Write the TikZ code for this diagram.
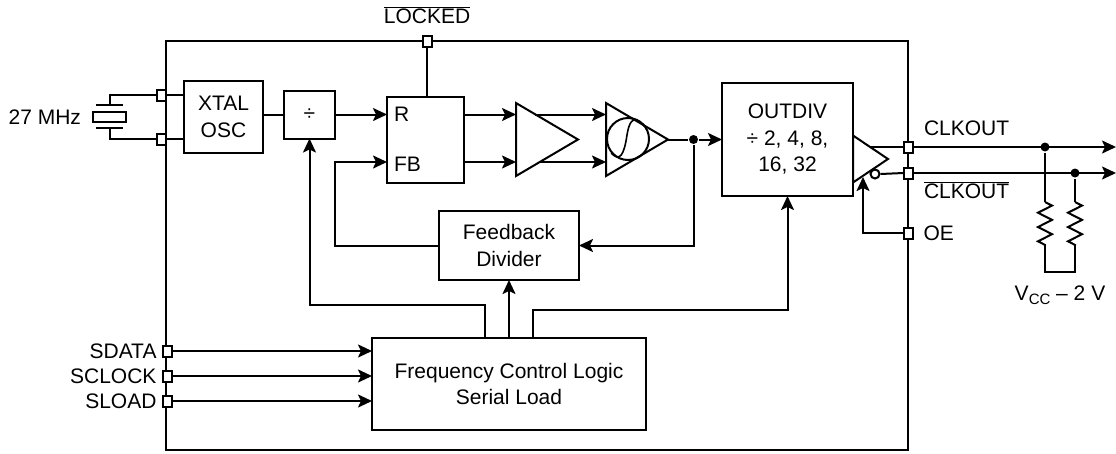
\documentclass[tikz,border=0pt]{standalone}
\usepackage{fontspec}
\setmainfont{Liberation Sans}
\usetikzlibrary{positioning}
\usetikzlibrary{arrows.meta}
\usetikzlibrary{shapes.geometric}
\usetikzlibrary{decorations.pathmorphing}
\tikzset{	x=1pt, y=-1pt,
	font=\fontsize{21}{26.5}\selectfont,
	>={Stealth[length=14pt,width=13pt,inset=3pt]},
	blockbox/.style={
		draw,
		rectangle,
		align=center,
		inner sep=0pt,
		outer sep=0pt},
	ampbox/.style={
		draw,
		isosceles triangle,
		isosceles triangle stretches,
		shape border rotate=0,
		inner sep=0pt,
		outer sep=0pt},
	pinbox/.style={
		draw,
		fill=white,
		rectangle,
		inner sep=0pt,
		outer sep=0pt,
		minimum width=9pt,
		minimum height=11pt},
	junction/.style={
		circle,
		fill=black,
		inner sep=0pt,
		minimum size=9pt},
	textlabel/.style={
		inner sep=0pt,
		outer sep=0pt},
	resistor/.style={
		decorate,
		decoration={zigzag, amplitude=7pt, segment length=14.3pt}},
	every edge/.style={
		draw,
		->}
}

\begin{document}
\begin{tikzpicture}[line width=2pt]
			\useasboundingbox (0,0) rectangle (1116,453);
			% package outline and pins
			\node[blockbox, minimum width=742pt, minimum height=409pt] (chip) at (537,245.5) {};
			\node[pinbox] (xtalpina) at (161,95) {};
			\node[pinbox] (xtalpinb) at (161,139) {};
			\node[pinbox] (lockpin) at (427,41) {};
			\node[pinbox] (clkpin) at (908,147) {};
			\node[pinbox] (nclkpin) at (908,173) {};
			\node[pinbox] (oepin) at (908,233) {};
			\node[pinbox] (sdatapin) at (167,351) {};
			\node[pinbox] (sclockpin) at (167,376) {};
			\node[pinbox] (sloadpin) at (167,401) {};
			% blocks
			\node[blockbox, minimum width=79pt, minimum height=72pt] (xtal) at (223.5,117) {XTAL\\OSC};
			\node[blockbox, minimum width=51pt, minimum height=48pt, right=21pt of xtal, yshift=2.5pt] (ddiv) {÷};
			\node[blockbox, minimum width=77pt, minimum height=86pt, right=52pt of ddiv, yshift=-25pt] (pll) {};
			\node[ampbox, minimum width=73pt, minimum height=62pt, right=52pt of pll] (amp) {};
			\node[ampbox, minimum width=73pt, minimum height=62pt, right=28pt of amp] (vco) {};
			\node[circle, draw, inner sep=0pt, minimum size=42pt] (sine) at (628,139) {};
			\node[junction, right=20pt of vco] (vcodot) {};
			\node[blockbox, minimum width=131pt, minimum height=113pt] (outdiv) at (787.5,139.5) {OUTDIV\\÷ 2, 4, 8,\\16, 32};
			\node[ampbox, minimum width=47pt, minimum height=35pt, anchor=apex] (driver) at (888,159) {};
			\node[circle, draw, fill=white, inner sep=0pt, minimum size=9pt] (bubble) at (875,174) {};
			\node[blockbox, minimum width=274pt, minimum height=92pt] (freq) at (509,384) {Frequency Control Logic\\Serial Load};
			\node[blockbox, minimum width=140pt, minimum height=69pt, above=58pt of freq] (fbdiv) {Feedback\\Divider};
			\node[junction] (clkdot) at (1045,147) {};
			\node[junction] (nclkdot) at (1075,173) {};
			% crystal
			\node[draw, rectangle, inner sep=0pt, minimum width=33pt, minimum height=10pt] (crystal) at (109.5,117) {};
			\coordinate (platea) at (109.5,105);
			\coordinate (plateb) at (109.5,128);
			\draw ([xshift=-13.5pt]platea) -- ([xshift=13.5pt]platea);
			\draw ([xshift=-13.5pt]plateb) -- ([xshift=13.5pt]plateb);
			\draw (xtalpina.west) -| (platea);
			\draw (xtalpinb.west) -| (plateb);
			\draw (xtalpina.east) -- (xtal.west |- xtalpina);
			\draw (xtalpinb.east) -- (xtal.west |- xtalpinb);
			% sine inside the vco
			\draw[line width=1.6pt] (sine.220) .. controls (620,162) and (624,155) .. (627,135)
				.. controls (629,122) and (633,118) .. (637,120)
				.. controls (641,122) and (644,126) .. (sine.30);
			% helper points
			\coordinate (fbin) at ([yshift=-22.5pt]pll.west);
			\coordinate (upout) at (pll.east |- ddiv.east);
			\coordinate (lowout) at (pll.east |- fbin);
			\coordinate (fbcorner) at (ddiv.east |- fbin);
			\coordinate (ctla) at ([xshift=-24pt]freq.north);
			\coordinate (ctlb) at ([xshift=24pt]freq.north);
			\coordinate (divturn) at (309.5,305);
			\coordinate (outturn) at (787.5,310);
			\coordinate (clkstart) at (871,147);
			\coordinate (nclkend) at (1116,173);
			\coordinate (clkend) at (1116,147);
			\coordinate (oetip) at (863,177);
			\coordinate (rta) at (1045,202);
			\coordinate (rba) at (1045,245);
			\coordinate (rtb) at (1075,202);
			\coordinate (rbb) at (1075,245);
			\coordinate (rtiea) at (1045,272);
			\coordinate (rtieb) at (1075,272);
			% connectors
			\draw (xtal.east |- ddiv.west) -- (ddiv.west);
			\draw (ddiv.east) edge (ddiv.east -| pll.west);
			\draw[->] (fbdiv.west) -| (fbcorner) -- (fbin);
			\draw (upout) edge (upout -| amp.west);
			\draw (lowout) edge (lowout -| amp.west);
			\draw ([xshift=19pt]upout -| amp.west) edge (upout -| vco.west);
			\draw ([xshift=23pt]lowout -| amp.west) edge (lowout -| vco.west);
			\draw (vco.east) -- (vcodot);
			\draw (vcodot) edge (vcodot -| outdiv.west);
			\draw[->] (vcodot) |- (fbdiv.east);
			\draw (freq.north) edge (fbdiv.south);
			\draw[->] (ctla) |- (divturn) -- (ddiv.south);
			\draw[->] (ctlb) |- (outturn) -- (outdiv.south);
			\draw (lockpin.south) -- (lockpin |- pll.north);
			\draw (sdatapin.east) edge (sdatapin -| freq.west);
			\draw (sclockpin.east) edge (sclockpin -| freq.west);
			\draw (sloadpin.east) edge (sloadpin -| freq.west);
			\draw (clkstart) -- (clkpin.west);
			\draw (bubble.east) -- (nclkpin.west);
			\draw (clkpin.east) edge (clkend);
			\draw (nclkpin.east) edge (nclkend);
			\draw[->] (oepin.west) -| (oetip);
			\draw (clkdot) -- (rta);
			\draw (nclkdot) -- (rtb);
			\draw[resistor] (rta) -- (rba);
			\draw[resistor] (rtb) -- (rbb);
			\draw (rba) -- (rtiea) -- (rtieb) -- (rbb);
			% labels
			\node[textlabel, left=11pt of crystal] (xtalfreq) {27 MHz};
			\node[textlabel, anchor=west] (rlabel) at ([xshift=7pt]pll.west |- ddiv.east) {R};
			\node[textlabel, anchor=west] (fblabel) at ([xshift=7pt,yshift=-2pt]fbin) {FB};
			\node[textlabel] (locklabel) at (427,15) {$\overline{\mbox{LOCKED}}$};
			\node[textlabel, anchor=west] (clklabel) at (924,128) {CLKOUT};
			\node[textlabel, anchor=west] (nclklabel) at (924,190) {$\overline{\mbox{CLKOUT}}$};
			\node[textlabel, right=11pt of oepin] (oelabel) {OE};
			\node[textlabel, left=6pt of sdatapin] (sdatalabel) {SDATA};
			\node[textlabel, left=6pt of sclockpin] (sclocklabel) {SCLOCK};
			\node[textlabel, left=6pt of sloadpin] (sloadlabel) {SLOAD};
			\node[textlabel] (vttlabel) at (1060,295) {V\raisebox{-4pt}{\fontsize{15}{15}\selectfont CC} – 2 V};
		\end{tikzpicture}
\end{document}
